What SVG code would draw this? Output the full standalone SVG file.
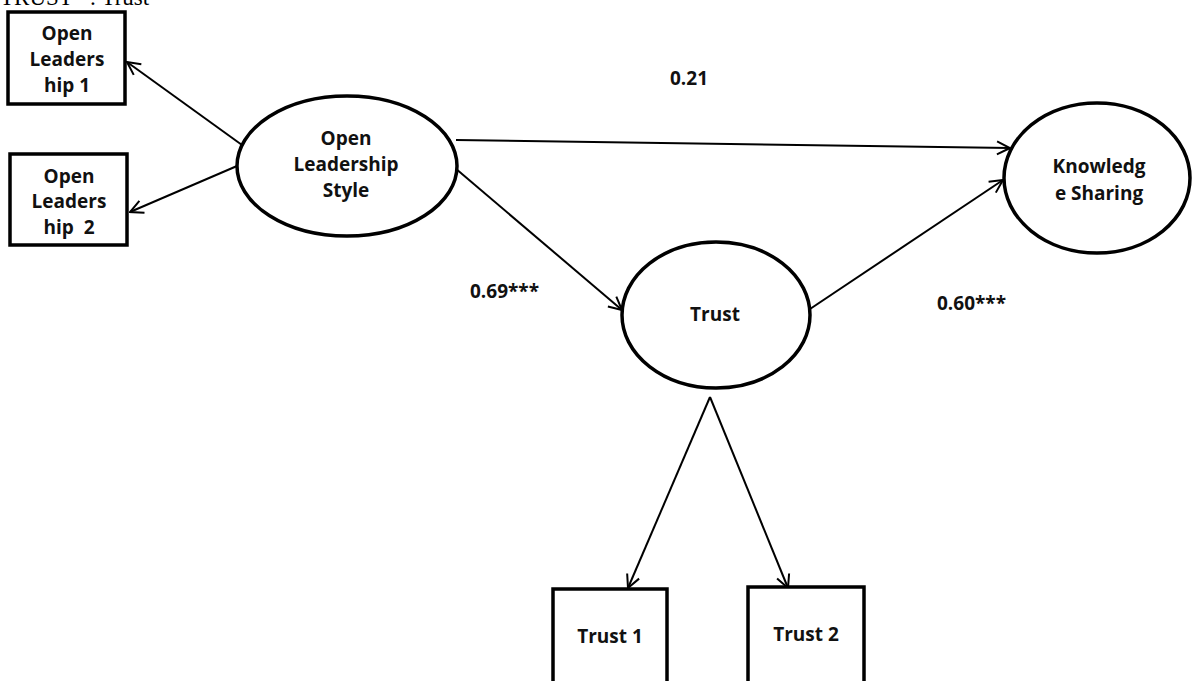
<svg xmlns="http://www.w3.org/2000/svg" width="1192" height="681" viewBox="0 0 1192 681">
<defs>
<style>
.lbl{font-family:"Open Sans","DejaVu Sans",sans-serif;font-weight:700;font-size:19px;fill:#111;text-anchor:middle}
.num{font-family:"Open Sans","DejaVu Sans",sans-serif;font-weight:700;font-size:19px;fill:#111}
.box{fill:#fff;stroke:#000;stroke-width:3.5}
.ell{fill:#fff;stroke:#000;stroke-width:3.5}
.con line{stroke:#000;stroke-width:2;marker-end:url(#arr)}
</style>
<marker id="arr" viewBox="0 0 16 16" refX="15" refY="8" markerWidth="16" markerHeight="16" markerUnits="userSpaceOnUse" orient="auto">
<path d="M2,1.5 L15,8 L2,14.5" fill="none" stroke="#000" stroke-width="2"/>
</marker>
</defs>
<rect width="1192" height="681" fill="#fff"/>
<text x="0" y="5" font-family="Liberation Serif, serif" font-size="23" fill="#000" xml:space="preserve">TRUST   : Trust</text>
<g id="connectors" class="con">
<line x1="242" y1="145" x2="127" y2="62"/>
<line x1="237" y1="166" x2="130" y2="212"/>
<line x1="456" y1="140" x2="1010" y2="148"/>
<line x1="455" y1="168" x2="622" y2="310"/>
<line x1="810" y1="309" x2="1003" y2="180"/>
<line x1="710" y1="397" x2="628" y2="588"/>
<line x1="710" y1="397" x2="788" y2="588"/>
</g>
<g id="box-ol1">
<rect class="box" x="8" y="12" width="117" height="92"/>
<text class="lbl" x="67" y="40">Open</text>
<text class="lbl" x="67" y="66">Leaders</text>
<text class="lbl" x="67" y="92">hip 1</text>
</g>
<g id="box-ol2">
<rect class="box" x="10" y="154" width="117" height="91"/>
<text class="lbl" x="69" y="183">Open</text>
<text class="lbl" x="69" y="208">Leaders</text>
<text class="lbl" x="69" y="234" xml:space="preserve">hip  2</text>
</g>
<g id="ols">
<ellipse class="ell" cx="347" cy="166" rx="110" ry="70"/>
<text class="lbl" x="346" y="145">Open</text>
<text class="lbl" x="346" y="171">Leadership</text>
<text class="lbl" x="346" y="197">Style</text>
</g>
<g id="ks">
<ellipse class="ell" cx="1097" cy="178" rx="93" ry="75"/>
<text class="lbl" x="1099" y="173">Knowledg</text>
<text class="lbl" x="1099" y="200">e Sharing</text>
</g>
<g id="trust">
<ellipse class="ell" cx="716" cy="315" rx="94" ry="73"/>
<text class="lbl" x="715" y="321">Trust</text>
</g>
<g id="trust1">
<rect class="box" x="553" y="589" width="114" height="100"/>
<text class="lbl" x="610" y="643">Trust 1</text>
</g>
<g id="trust2">
<rect class="box" x="748" y="587" width="116" height="102"/>
<text class="lbl" x="806" y="641">Trust 2</text>
</g>
<g id="labels">
<text class="num" x="670" y="85">0.21</text>
<text class="num" x="470" y="298">0.69***</text>
<text class="num" x="937" y="310">0.60***</text>
</g>
</svg>
